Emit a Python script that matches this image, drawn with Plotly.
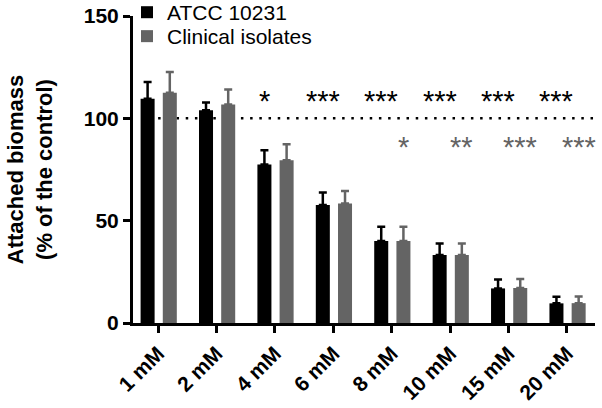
import plotly.graph_objects as go

categories = ["1 mM", "2 mM", "4 mM", "6 mM", "8 mM", "10 mM", "15 mM", "20 mM"]
atcc = [109.6, 103.9, 77.4, 57.6, 40.1, 33.2, 16.9, 9.6]
atcc_err = [8.1, 3.8, 7.0, 6.2, 6.9, 5.7, 4.4, 3.2]
clinical = [112.5, 106.7, 79.5, 58.4, 40.1, 33.2, 17.1, 9.7]
clinical_err = [10.1, 7.4, 7.8, 6.1, 6.9, 5.7, 4.4, 3.3]
sig_atcc = ["", "", "*", "***", "***", "***", "***", "***"]
sig_clin = ["", "", "", "", "*", "**", "***", "***"]

BLACK = "#000000"
GRAY = "#646464"
FONT = "Liberation Sans, Arial, sans-serif"

fig = go.Figure()
fig.add_trace(go.Bar(
    x=categories, y=atcc, name="ATCC 10231", legend="legend",
    marker=dict(color=BLACK, line=dict(width=0)),
    width=0.24, offset=-0.30,
    error_y=dict(type="data", array=atcc_err, symmetric=False, arrayminus=[0]*8,
                 color=BLACK, thickness=2.5, width=4),
))
fig.add_trace(go.Bar(
    x=categories, y=clinical, name="Clinical isolates", legend="legend2",
    marker=dict(color=GRAY, line=dict(width=0)),
    width=0.24, offset=0.08,
    error_y=dict(type="data", array=clinical_err, symmetric=False, arrayminus=[0]*8,
                 color=GRAY, thickness=2.5, width=4),
))

annotations = []
for i, s in enumerate(sig_atcc):
    if s:
        annotations.append(dict(x=i - 0.18, y=108.5, xref="x", yref="y", text=s,
                                showarrow=False, yanchor="middle", xanchor="center",
                                font=dict(family=FONT, size=29, color=BLACK)))
for i, s in enumerate(sig_clin):
    if s:
        annotations.append(dict(x=i + 0.20, y=85.9, xref="x", yref="y", text=s,
                                showarrow=False, yanchor="middle", xanchor="center",
                                font=dict(family=FONT, size=29, color=GRAY)))

legend_common = dict(xanchor="left", yanchor="top",
                     font=dict(family=FONT, size=21, color=BLACK),
                     bgcolor="rgba(255,255,255,0)", itemwidth=30)

fig.update_layout(
    width=602, height=408,
    margin=dict(l=133, r=7, t=16, b=85, autoexpand=False),
    paper_bgcolor="white", plot_bgcolor="white",
    showlegend=True,
    legend=dict(x=-0.013, y=1.078, **legend_common),
    legend2=dict(x=-0.013, y=1.0, **legend_common),
    annotations=annotations,
    shapes=[dict(type="line", xref="x", yref="y", x0=0, x1=7.48, y0=100, y1=100,
                 line=dict(color=BLACK, width=2.5, dash="2.5px,6.7px"), layer="below")],
    xaxis=dict(type="category", range=[-0.43, 7.48], automargin=False,
               showline=True, linecolor=BLACK, linewidth=3,
               ticks="outside", ticklen=7, tickwidth=2.5, tickcolor=BLACK,
               tickangle=-45, showgrid=False, zeroline=False,
               tickfont=dict(family=FONT, size=21, color=BLACK, weight="bold")),
    yaxis=dict(range=[0, 150], tickvals=[0, 50, 100, 150], automargin=False,
               showline=True, linecolor=BLACK, linewidth=3,
               ticks="outside", ticklen=7, tickwidth=2.5, tickcolor=BLACK,
               showgrid=False, zeroline=False,
               tickfont=dict(family=FONT, size=21, color=BLACK, weight="bold"),
               title=dict(text="Attached biomass<br>(% of the control)", standoff=26,
                          font=dict(family=FONT, size=22, color=BLACK, weight="bold"))),
)

fig.write_html("out.html", config={"displayModeBar": False},
               post_script="document.body.style.margin='0';document.body.style.overflow='hidden';")
